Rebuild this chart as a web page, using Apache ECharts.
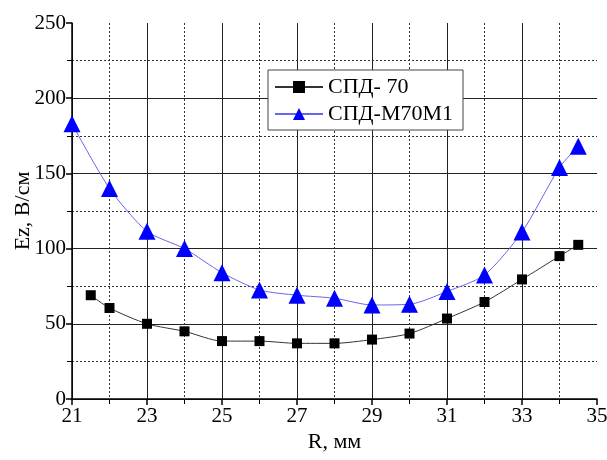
<!DOCTYPE html>
<html>
<head>
<meta charset="utf-8">
<script src="https://cdn.jsdelivr.net/npm/echarts@6/dist/echarts.min.js"></script>
<style>
  html, body { margin: 0; padding: 0; background: #fff; }
  #chart { width: 607px; height: 460px; }
</style>
</head>
<body>
<div id="chart"></div>
<script>
// R, mm and Ez, V/cm
var rSpd70 = [21.5, 22, 23, 24, 25, 26, 27, 28, 29, 30, 31, 32, 33, 34, 34.5];
var ezSpd70 = [69, 60.5, 50, 45, 38.5, 38.5, 37, 37, 39.5, 43.5, 53.5, 64.5, 79.5, 95, 102.5];
var rM70 = [21, 22, 23, 24, 25, 26, 27, 28, 29, 30, 31, 32, 33, 34, 34.5];
var ezM70 = [183, 140, 111.5, 100, 84, 72.5, 69, 67, 62.5, 63, 71.5, 82.5, 111, 154, 168];
var seriesNames = ['СПД- 70', 'СПД-М70М1'];

function pairs(xs, ys) {
    return xs.map(function (x, k) { return [x, ys[k]]; });
}

var font = 'Liberation Serif';
var chart = echarts.init(document.getElementById('chart'));
chart.setOption({
    animation: false,
    textStyle: { fontFamily: font },
    grid: { left: 72, right: 10, top: 23, bottom: 61, outerBoundsMode: 'none', containLabel: false },
    legend: {
        left: 268, top: 70,
        orient: 'vertical',
        itemWidth: 48, itemHeight: 15, itemGap: 5,
        padding: [6, 10, 5, 6],
        borderColor: '#444', borderWidth: 1,
        backgroundColor: '#fff',
        textStyle: { fontFamily: font, fontSize: 22, color: '#000' },
        data: seriesNames
    },
    xAxis: {
        type: 'value', min: 21, max: 35, interval: 2,
        name: 'R, мм', nameLocation: 'middle', nameGap: 32, nameMoveOverlap: false,
        nameTextStyle: { fontFamily: font, fontSize: 22, color: '#000' },
        axisLine: { onZero: false, lineStyle: { color: '#000', width: 1.5 } },
        axisTick: { length: 6, lineStyle: { color: '#000', width: 1.5 } },
        minorTick: { show: true, splitNumber: 2, length: 5, lineStyle: { color: '#000' } },
        axisLabel: { fontFamily: font, fontSize: 21, color: '#000', margin: 7 },
        splitLine: { show: true, showMaxLine: false, lineStyle: { color: '#222', width: 1 } },
        minorSplitLine: { show: true, lineStyle: { color: '#333', type: [2, 2], width: 1 } }
    },
    yAxis: {
        type: 'value', min: 0, max: 250, interval: 50,
        name: 'Ez, В/см', nameLocation: 'middle', nameGap: 38, nameMoveOverlap: false,
        nameTextStyle: { fontFamily: font, fontSize: 22, color: '#000' },
        axisLine: { show: true, lineStyle: { color: '#000', width: 1.5 } },
        axisTick: { show: true, length: 6, lineStyle: { color: '#000', width: 1.5 } },
        minorTick: { show: true, splitNumber: 2, length: 5, lineStyle: { color: '#000' } },
        axisLabel: { fontFamily: font, fontSize: 21, color: '#000', margin: 6 },
        splitLine: { show: true, showMaxLine: false, lineStyle: { color: '#222', width: 1 } },
        minorSplitLine: { show: true, lineStyle: { color: '#333', type: [2, 2], width: 1 } }
    },
    series: [
        {
            name: seriesNames[0], type: 'line', smooth: 0.25,
            data: pairs(rSpd70, ezSpd70),
            symbol: 'rect', symbolSize: 10,
            itemStyle: { color: '#000' },
            lineStyle: { color: '#333', width: 1 }
        },
        {
            name: seriesNames[1], type: 'line', smooth: 0.25,
            data: pairs(rM70, ezM70),
            symbol: 'triangle', symbolSize: 17,
            itemStyle: { color: '#0000ff' },
            lineStyle: { color: '#6666ee', width: 1 }
        }
    ]
});
</script>
</body>
</html>
